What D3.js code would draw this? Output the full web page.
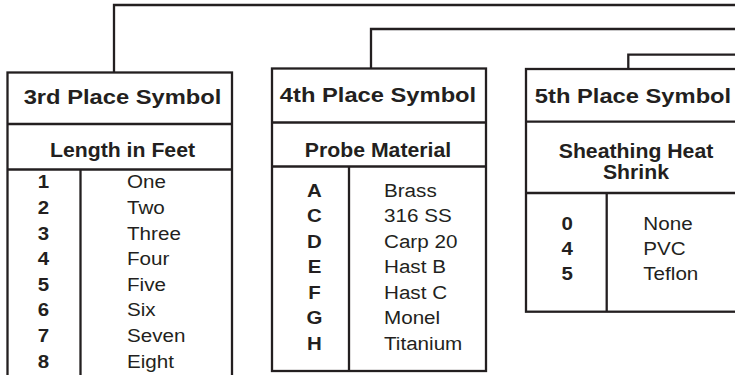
<!DOCTYPE html>
<html>
<head>
<meta charset="utf-8">
<script src="https://cdn.jsdelivr.net/npm/d3@7/dist/d3.min.js"></script>
<style>
  html, body { margin: 0; padding: 0; background: #fff; }
  svg { display: block; }
  text { font-family: "Liberation Sans", Arial, Helvetica, sans-serif; fill: #231f20; }
</style>
</head>
<body>
<svg id="chart" width="735" height="375"></svg>
<script>
// ---- data ----
const titles = ["3rd Place Symbol", "4th Place Symbol", "5th Place Symbol"];
const subtitles = [["Length in Feet"], ["Probe Material"], ["Sheathing Heat", "Shrink"]];
const lengthCodes = ["1", "2", "3", "4", "5", "6", "7", "8"];
const lengthLabels = ["One", "Two", "Three", "Four", "Five", "Six", "Seven", "Eight"];
const materialCodes = ["A", "C", "D", "E", "F", "G", "H"];
const materialLabels = ["Brass", "316 SS", "Carp 20", "Hast B", "Hast C", "Monel", "Titanium"];
const sheathCodes = ["0", "4", "5"];
const sheathLabels = ["None", "PVC", "Teflon"];

// ---- layout ----
const layout = [
  { x0: 7.5, x1: 232, y0: 72.5, yH: 124, yS: 169.5, y1: 400, colX: 80.5, connX: 114, connY: 5,
    titleCX: 122.5, titleBase: 103.5, subBase: [156.7], codeCX: 43.5, labelX: 127, rowBase0: 188.3, rowStep: 25.6 },
  { x0: 272, x1: 486, y0: 68.5, yH: 122.5, yS: 166.5, y1: 371, colX: 349, connX: 371, connY: 29,
    titleCX: 378, titleBase: 101.7, subBase: [156.7], codeCX: 314.5, labelX: 384, rowBase0: 196.7, rowStep: 25.55 },
  { x0: 526, x1: 760, y0: 69, yH: 121.7, yS: 193, y1: 311.7, colX: 606.7, connX: 628.3, connY: 54.7,
    titleCX: 633, titleBase: 103.3, subBase: [157.7, 179], codeCX: 567.3, labelX: 643.3, rowBase0: 230, rowStep: 25 }
];
const codes = [lengthCodes, materialCodes, sheathCodes];
const labels = [lengthLabels, materialLabels, sheathLabels];

const INK = "#231f20";
const SW = 2.3;

const svg = d3.select("#chart");

function addText(g, str, x, y, opts) {
  g.append("text")
    .attr("transform", `translate(${x},${y}) scale(${opts.sx},1)`)
    .attr("text-anchor", opts.anchor)
    .attr("font-size", opts.size)
    .attr("font-weight", opts.bold ? "bold" : "normal")
    .text(str);
}

layout.forEach((L, i) => {
  const g = svg.append("g");
  // connector
  g.append("path")
    .attr("d", d3.line()([[L.connX, L.y0], [L.connX, L.connY], [760, L.connY]]))
    .attr("fill", "none").attr("stroke", INK).attr("stroke-width", SW);
  // box
  g.append("rect")
    .attr("x", L.x0).attr("y", L.y0)
    .attr("width", L.x1 - L.x0).attr("height", L.y1 - L.y0)
    .attr("fill", "none").attr("stroke", INK).attr("stroke-width", SW);
  // header dividers
  [L.yH, L.yS].forEach(y => {
    g.append("line").attr("x1", L.x0).attr("x2", L.x1).attr("y1", y).attr("y2", y)
      .attr("stroke", INK).attr("stroke-width", SW);
  });
  // column divider
  g.append("line").attr("x1", L.colX).attr("x2", L.colX).attr("y1", L.yS).attr("y2", L.y1)
    .attr("stroke", INK).attr("stroke-width", SW);

  // title & subtitle
  addText(g, titles[i], L.titleCX, L.titleBase, { sx: 1.13, size: 21, bold: true, anchor: "middle" });
  subtitles[i].forEach((s, k) => {
    addText(g, s, L.titleCX + (subtitles[i].length > 1 ? 3 : 0), L.subBase[k],
      { sx: 1.09, size: 19.5, bold: true, anchor: "middle" });
  });

  // rows
  const n = codes[i].length;
  const y = d3.scaleLinear().domain([0, n - 1]).range([L.rowBase0, L.rowBase0 + L.rowStep * (n - 1)]);
  codes[i].forEach((c, k) => {
    addText(g, c, L.codeCX, y(k), { sx: 1.1, size: 18.6, bold: true, anchor: "middle" });
    addText(g, labels[i][k], L.labelX, y(k), { sx: 1.11, size: 18.6, bold: false, anchor: "start" });
  });
});
</script>
</body>
</html>
